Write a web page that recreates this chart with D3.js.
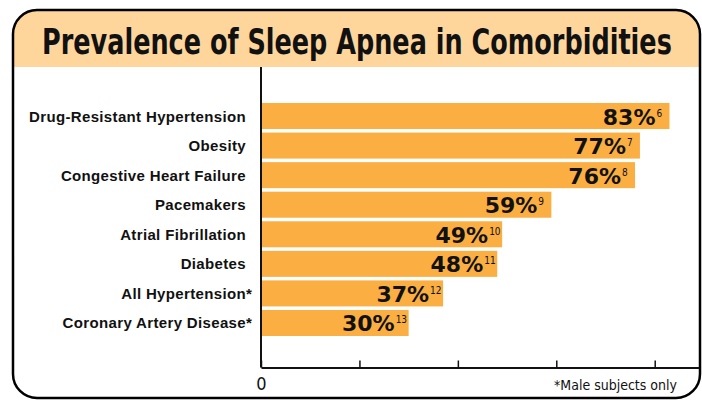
<!DOCTYPE html>
<html lang="en">
<head>
  <meta charset="utf-8">
  <title>Prevalence of Sleep Apnea in Comorbidities</title>
  <style>
    body { margin: 0; background: #fff; }
    #chart text { fill: #111; }
    .cat { font: bold 15px "Liberation Sans", Arial, sans-serif; letter-spacing: 0.35px; }
    .val { font: bold 22px "DejaVu Sans", sans-serif; }
    .sup { font: 10px "DejaVu Sans Condensed", sans-serif; }
    .title { font: bold 35px "DejaVu Sans Condensed", sans-serif; }
    .note { font: 14px "DejaVu Sans Condensed", sans-serif; }
    .x-axis text { font: 18px "DejaVu Sans Condensed", sans-serif; fill: #111; }
  </style>
</head>
<body>
  <div id="chart"></div>
<script src="https://d3js.org/d3.v7.min.js"></script>
<script>
  // data
  var categories = ["Drug-Resistant Hypertension", "Obesity", "Congestive Heart Failure",
    "Pacemakers", "Atrial Fibrillation", "Diabetes", "All Hypertension*", "Coronary Artery Disease*"];
  var values = [83, 77, 76, 59, 49, 48, 37, 30];
  var refs = [6, 7, 8, 9, 10, 11, 12, 13];
  var xTicks = [0, 20, 40, 60, 80];

  var width = 702, height = 400;
  var box = { left: 13, right: 700, top: 10, bottom: 398, r: 24 },
    bandBottom = 67,
    axisY = 367.5;

  var svg = d3.select("#chart")
    .append("svg")
    .attr("width", width)
    .attr("height", height);

  // rounded frame + title band
  function roundedBox(l, t, r, b, rad, bottomRound) {
    var p = d3.path();
    p.moveTo(l, t + rad);
    p.arcTo(l, t, l + rad, t, rad);
    p.lineTo(r - rad, t);
    p.arcTo(r, t, r, t + rad, rad);
    if (bottomRound) {
      p.lineTo(r, b - rad);
      p.arcTo(r, b, r - rad, b, rad);
      p.lineTo(l + rad, b);
      p.arcTo(l, b, l, b - rad, rad);
    } else {
      p.lineTo(r, b);
      p.lineTo(l, b);
    }
    p.closePath();
    return p.toString();
  }

  svg.append("path")
    .attr("d", roundedBox(box.left, box.top, box.right, box.bottom, box.r, true))
    .attr("fill", "#fff");
  svg.append("path")
    .attr("d", roundedBox(box.left, box.top, box.right, bandBottom, box.r, false))
    .attr("fill", "#fed69c");
  svg.append("path")
    .attr("d", roundedBox(box.left, box.top, box.right, box.bottom, box.r, true))
    .attr("fill", "none")
    .attr("stroke", "#000")
    .attr("stroke-width", 2.5);

  // title: squeeze horizontally to the reference width (condensed look)
  var title = svg.append("text")
    .attr("class", "title")
    .attr("x", 0)
    .attr("y", 0)
    .text("Prevalence of Sleep Apnea in Comorbidities");
  var tw = title.node().getComputedTextLength();
  var sx = 630 / tw;
  title.attr("transform", "translate(42,54) scale(" + sx + ",1)");

  var x = d3.scaleLinear()
    .domain([0, 89])
    .range([261, 699]);

  var y = d3.scaleBand()
    .domain(categories)
    .range([103, 336])
    .paddingInner(0.12)
    .paddingOuter(0);

  var data = categories.map(function (c, i) {
    return { cat: c, value: values[i], ref: refs[i] };
  });

  // bars
  svg.selectAll("rect.bar")
    .data(data)
    .enter()
    .append("rect")
    .attr("class", "bar")
    .attr("x", x(0))
    .attr("y", function (d) { return y(d.cat); })
    .attr("width", function (d) { return x(d.value) - x(0); })
    .attr("height", y.bandwidth())
    .attr("fill", "#fbaf42");

  // category labels (asterisk hangs past the right edge)
  var labelX = 246;
  var g = svg.append("g");
  g.selectAll("text.cat")
    .data(data)
    .enter()
    .append("text")
    .attr("class", "cat")
    .attr("x", labelX)
    .attr("y", function (d) { return y(d.cat) + y.bandwidth() / 2 + 5.5; })
    .attr("text-anchor", "end")
    .text(function (d) { return d.cat.replace("*", ""); });
  g.selectAll("text.star")
    .data(data.filter(function (d) { return d.cat.indexOf("*") >= 0; }))
    .enter()
    .append("text")
    .attr("class", "cat")
    .attr("x", labelX)
    .attr("y", function (d) { return y(d.cat) + y.bandwidth() / 2 + 5.5; })
    .text("*");

  // value labels + reference numbers
  g.selectAll("text.val")
    .data(data)
    .enter()
    .append("text")
    .attr("class", "val")
    .attr("x", function (d) { return x(d.value) - 14; })
    .attr("y", function (d) { return y(d.cat) + y.bandwidth() / 2 + 8.5; })
    .attr("text-anchor", "end")
    .text(function (d) { return d.value + "%"; });
  g.selectAll("text.sup")
    .data(data)
    .enter()
    .append("text")
    .attr("class", "sup")
    .attr("x", function (d) { return x(d.value) - 13; })
    .attr("y", function (d) { return y(d.cat) + y.bandwidth() / 2 + 0.5; })
    .text(function (d) { return d.ref; });

  // axes
  svg.append("line")
    .attr("x1", x(0)).attr("x2", x(0))
    .attr("y1", bandBottom).attr("y2", axisY)
    .attr("stroke", "#111")
    .attr("stroke-width", 2);

  var xAxis = svg.append("g")
    .attr("class", "x-axis")
    .attr("transform", "translate(0," + axisY + ")")
    .call(d3.axisBottom(x)
      .tickValues(xTicks)
      .tickSizeInner(-7)
      .tickSizeOuter(0)
      .tickPadding(10)
      .tickFormat(function (d) { return d === 0 ? "0" : ""; }));
  xAxis.select(".domain").attr("stroke", "#111").attr("stroke-width", 2);
  xAxis.selectAll(".tick line").attr("stroke", "#111").attr("stroke-width", 1.5);

  svg.append("text")
    .attr("class", "note")
    .attr("x", 677)
    .attr("y", 390)
    .attr("text-anchor", "end")
    .text("*Male subjects only");
</script>
</body>
</html>
